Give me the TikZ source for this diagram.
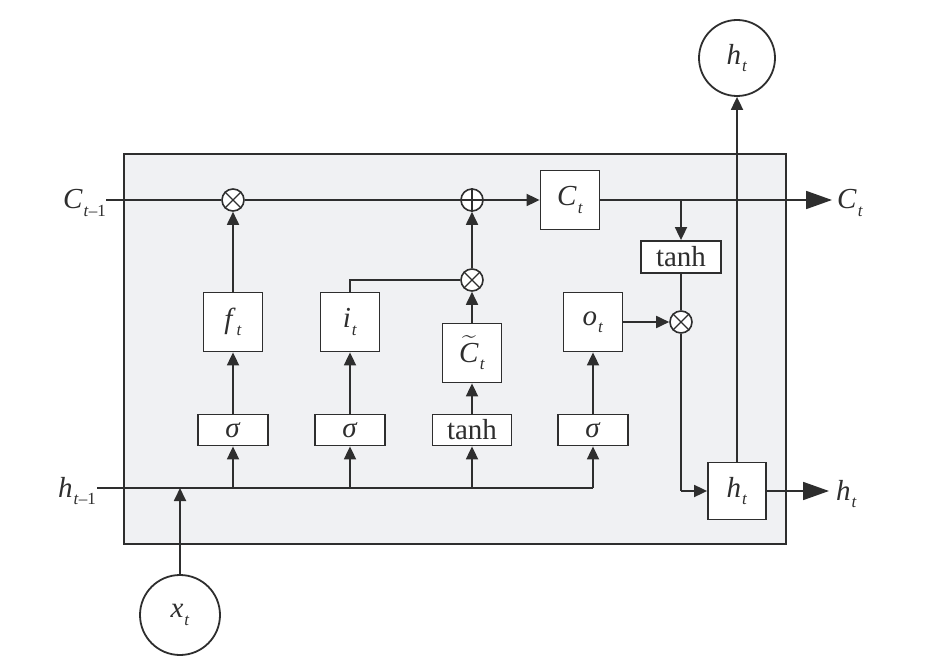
\documentclass[tikz,border=0pt]{standalone}
\usepackage{amsmath}
\usepackage{fontspec}
\setmainfont{Liberation Serif}
\usetikzlibrary{arrows.meta}
\definecolor{ln}{HTML}{2E2E2E}
\definecolor{bg}{HTML}{F0F1F3}
\newcommand{\lab}[2]{\textit{#1}\kern1pt\raisebox{-0.55ex}{\fontsize{17}{17}\selectfont #2}}
\begin{document}
\begin{tikzpicture}[x=1pt,y=-1pt,
  every node/.style={font=\fontsize{29}{32}\selectfont, text=ln},
  ln/.style={draw=ln, line width=1.8pt},
  arr/.style={ln, -{Triangle[length=13pt,width=12pt]}},
  bigarr/.style={ln, -{Triangle[length=26pt,width=18pt]}},
  gate/.style={draw=ln, line width=1.8pt, fill=white, minimum width=59pt, minimum height=59pt, inner sep=0pt},
  act/.style={draw=ln, line width=1.8pt, fill=white, minimum width=70pt, minimum height=31pt, inner sep=0pt},
  op/.style={circle, draw=ln, line width=1.6pt, fill=white, minimum size=22pt, inner sep=0pt},
  io/.style={circle, draw=ln, line width=1.8pt, fill=white, inner sep=0pt}
]
\useasboundingbox (0,0) rectangle (935,671);
\fill[white] (0,0) rectangle (935,671);
% outer cell
\draw[ln, fill=bg] (124,154) rectangle (786,544);

% coordinates
\coordinate (cin) at (106,200);
\coordinate (cout) at (832,200);
\coordinate (hin) at (97,488);
\coordinate (hend) at (593,488);
\coordinate (tapC) at (681,200);
\coordinate (hx) at (180,488);
\coordinate (hf) at (233,488);
\coordinate (hi) at (350,488);
\coordinate (hc) at (472,488);
\coordinate (ho) at (593,488);
\coordinate (hcorner) at (681,491);
\coordinate (hout) at (829,491);

\node[io, minimum size=76pt] (htop) at (737,58) {\lab{h}{\textit{t}}};
\node[io, minimum size=80pt] (xt) at (180,615) {\lab{x}{\textit{t}}};

% nodes
\node[op] (m1) at (233,200) {};
\node[op] (p1) at (472,200) {};
\node[op] (m2) at (472,280) {};
\node[op] (m3) at (681,322) {};
\node[gate] (Ct) at (570,200) {\lab{C}{\textit{t}}};
\node[gate] (ft) at (233,322) {\lab{f}{\textit{t}}};
\node[gate] (it) at (350,322) {\lab{i}{\textit{t}}};
\node[gate] (Ctil) at (472,353) {$\widetilde{\text{\textit{C}}}$\kern1pt\raisebox{-0.55ex}{\fontsize{17}{17}\selectfont\textit{t}}};
\node[gate] (ot) at (593,322) {\lab{o}{\textit{t}}};
\node[act] (s1) at (233,430) {\textit{σ}};
\node[act] (s2) at (350,430) {\textit{σ}};
\node[act, minimum width=79pt] (s3) at (472,430) {tanh};
\node[act] (s4) at (593,430) {\textit{σ}};
\node[act, minimum width=80pt, minimum height=32pt] (th) at (681,257) {tanh};
\node[gate, minimum width=58pt, minimum height=57pt] (ht) at (737,491) {\lab{h}{\textit{t}}};

% cross marks
\foreach \n in {m1,m2,m3}{
  \draw[ln, line width=1.4pt] (\n.north east) -- (\n.south west) (\n.north west) -- (\n.south east);
}
\draw[ln, line width=1.4pt] (p1.north) -- (p1.south) (p1.west) -- (p1.east);

% cell state line
\draw[ln] (cin) -- (m1.west);
\draw[ln] (m1.east) -- (p1.west);
\draw[arr] (p1.east) -- (Ct.west);
\draw[bigarr] (Ct.east) -- (cout);
% output vertical
\draw[arr] (ht.north) -- (htop.south);

% hidden input line
\draw[ln] (hin) -- (hend);
\draw[arr] (xt.north) -- (hx);
\draw[arr] (hf) -- (s1.south);
\draw[arr] (hi) -- (s2.south);
\draw[arr] (hc) -- (s3.south);
\draw[arr] (ho) -- (s4.south);
\draw[arr] (s1.north) -- (ft.south);
\draw[arr] (s2.north) -- (it.south);
\draw[arr] (s3.north) -- (Ctil.south);
\draw[arr] (s4.north) -- (ot.south);

% gates
\draw[arr] (ft.north) -- (m1.south);
\draw[ln] (it.north) |- (m2.west);
\draw[arr] (Ctil.north) -- (m2.south);
\draw[arr] (m2.north) -- (p1.south);
\draw[arr] (tapC) -- (th.north);
\draw[ln] (th.south) -- (m3.north);
\draw[arr] (ot.east) -- (m3.west);
\draw[ln] (m3.south) -- (hcorner);
\draw[arr] (hcorner) -- (ht.west);
\draw[bigarr] (ht.east) -- (hout);

% outside labels
\node[anchor=east, inner sep=0pt] (lc1) at (106,203) {\lab{C}{\textit{t}–1}};
\node[anchor=east, inner sep=0pt] (lh1) at (96,491) {\lab{h}{\textit{t}–1}};
\node[anchor=west, inner sep=0pt] (lc2) at (837,203) {\lab{C}{\textit{t}}};
\node[anchor=west, inner sep=0pt] (lh2) at (836,494) {\lab{h}{\textit{t}}};
\end{tikzpicture}
\end{document}
